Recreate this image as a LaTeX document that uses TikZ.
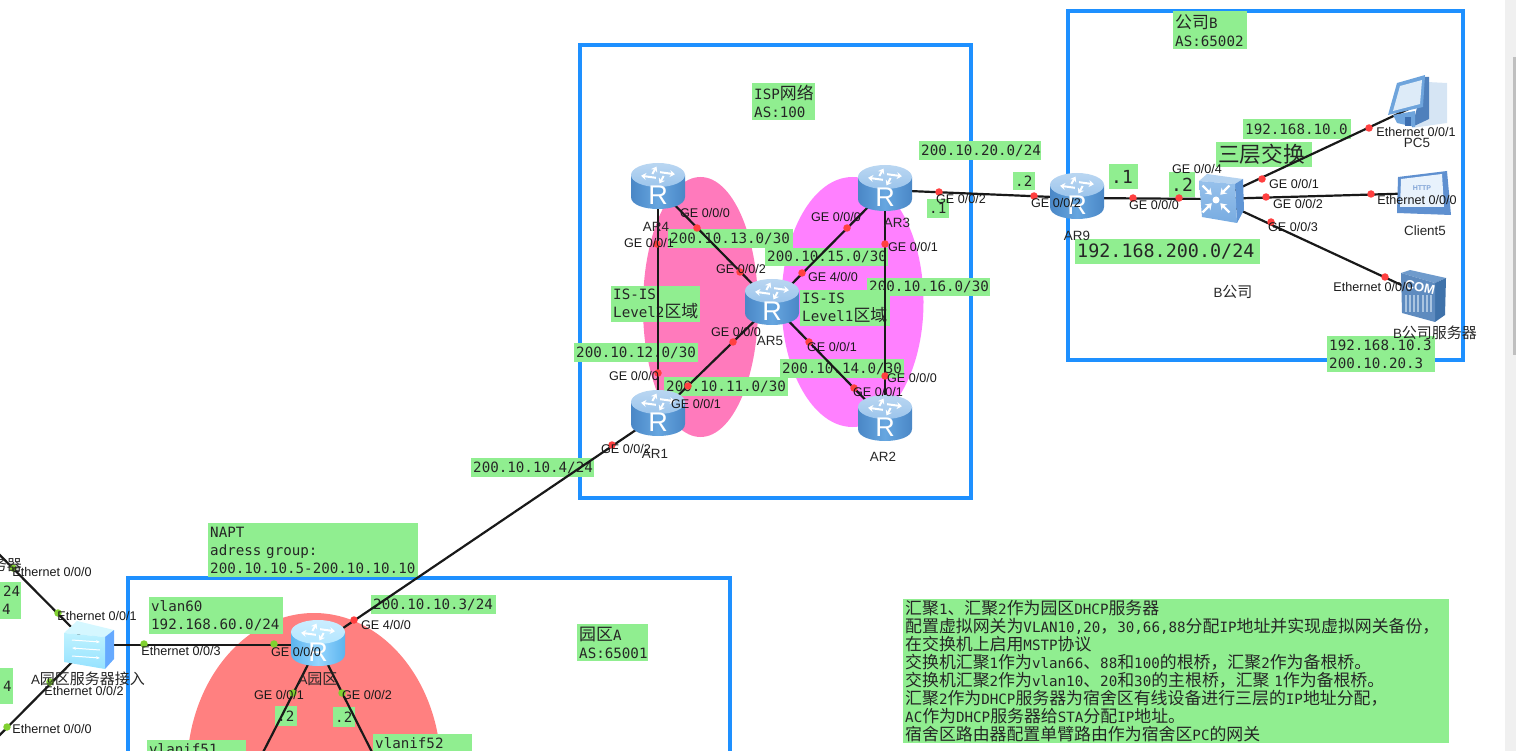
\documentclass[tikz,border=0pt]{standalone}
\usepackage{fontspec}
\setmainfont{Liberation Sans}
\newfontfamily\monofnt{DejaVu Sans Mono}
\newfontfamily\cjk[Scale=1.19]{Noto Sans CJK SC}
\newfontfamily\cjkb[Scale=1.12]{Noto Sans CJK SC}
\newcommand{\zh}[1]{{\cjk #1}}
\newcommand{\zhb}[1]{{\cjkb #1}}
\usetikzlibrary{arrows.meta,positioning,calc}
\definecolor{lblgreen}{HTML}{90EE90}
\definecolor{framblue}{HTML}{1E90FF}
\definecolor{zonepink}{HTML}{FF7ABC}
\definecolor{zonemag}{HTML}{FF80FF}
\definecolor{zonered}{HTML}{FF8080}
\definecolor{portred}{HTML}{FF4040}
\definecolor{portgreen}{HTML}{80D030}
\definecolor{rtedge}{HTML}{4A87C6}
\definecolor{rtbody}{HTML}{66A6E0}
\definecolor{rttop}{HTML}{9CC5EC}
\definecolor{raedge}{HTML}{5CB4EE}
\definecolor{rabody}{HTML}{96D6FF}
\definecolor{ratop}{HTML}{B4E6FF}
\tikzset{
    areaframe/.style={draw=framblue,line width=4pt},
    lblbox/.style 2 args={fill=lblgreen,anchor=north west,align=left,inner xsep=2pt,inner ysep=0pt,
        text width=#1pt,minimum height=#2pt,text=black!85,font=\fontsize{14.2}{18}\selectfont\monofnt},
    link/.style={draw=black!90,line width=2.2pt},
    device/.style={circle,inner sep=0pt,minimum size=2pt},
    reddot/.style={circle,fill=portred,inner sep=0pt,minimum size=7.5pt},
    greendot/.style={circle,fill=portgreen,inner sep=0pt,minimum size=7.5pt},
    portlbl/.style={inner sep=0pt,text=black!90,font=\fontsize{12.6}{14}\selectfont},
    devlbl/.style={inner sep=0pt,text=black!85,font=\fontsize{13.4}{15}\selectfont},
}
% router: #1 node, #2 edge, #3 body, #4 top
\newcommand{\routerpic}[4]{
    \begin{scope}[shift={(#1)},yshift=2pt]
        \path[left color=#2,right color=#2,middle color=#3]
            (-27,-11) -- (-27,11) .. controls (-27,27) and (27,27) .. (27,11) -- (27,-11) -- cycle;
        \path[top color=#4!70!white,bottom color=#4] (0,-11) ellipse [x radius=27,y radius=12];
        \begin{scope}[shift={(0,-11)},yscale=.5]
            \foreach \a in {20,110,200,290}
                \draw[white,line width=2pt,-{Stealth[length=5pt,width=7pt]}] (\a:6) -- (\a+65:17);
        \end{scope}
        \node[white,inner sep=0pt,font=\fontsize{27}{27}\selectfont] at (0,9) {R};
    \end{scope}
}
\newcommand{\coreswitchpic}[1]{
    \begin{scope}[shift={(#1)}]
        \fill[fill={rgb,255:red,181;green,211;blue,240}] (-17,-18) -- (-9,-25) -- (27,-20) -- (19,-15) -- cycle;
        \fill[fill={rgb,255:red,95;green,149;blue,213}] (19,-15) -- (27,-20) -- (28,11) -- (21,24) -- cycle;
        \path[top color={rgb,255:red,150;green,193;blue,235},bottom color={rgb,255:red,120;green,172;blue,225}]
            (-17,-18) -- (19,-15) -- (21,24) -- (-14,18) -- cycle;
        \fill[white] (0,1) circle (3.5);
        \foreach \a in {45,135,225,315}
            \draw[white,line width=2.2pt,{Stealth[length=6pt,width=8pt]}-] (\a:6) -- (\a:19);
    \end{scope}
}
\newcommand{\accessswitchpic}[1]{
    \begin{scope}[shift={(#1)}]
        \fill[fill={rgb,255:red,213;green,247;blue,255}] (-25,-12) -- (-12,-24) -- (25,-15) -- (16,-8) -- cycle;
        \fill[fill={rgb,255:red,102;green,170;blue,255}] (16,-8) -- (25,-15) -- (25,14) -- (16,24) -- cycle;
        \path[top color={rgb,255:red,190;green,242;blue,255},bottom color={rgb,255:red,150;green,226;blue,255}]
            (-25,-12) -- (16,-8) -- (16,24) -- (-25,17) -- cycle;
        \draw[white,line width=1pt,-{Stealth[length=4pt]}] (-17,-5) -- (11,-3);
        \draw[white,line width=1pt,{Stealth[length=4pt]}-] (-17,3) -- (11,5);
        \draw[white,line width=1pt,-{Stealth[length=4pt]}] (-17,11) -- (11,13);
    \end{scope}
}
\begin{document}
\begin{tikzpicture}[x=1pt,y=-1pt]
    \useasboundingbox (0,0) rectangle (1516,751);
    \clip (0,0) rectangle (1516,751);
    \fill[black!6] (1505,0) rectangle (1516,751);
    \fill[black!25] (1513,57) rectangle (1516,355);

    \fill[zonered] (314,770) ellipse [x radius=127,y radius=157];
    \fill[zonepink] (700.5,307) ellipse [x radius=57.5,y radius=130];
    \fill[zonemag] (852.5,302) ellipse [x radius=71,y radius=125];
    \draw[areaframe] (580,45.5) rectangle (970.5,498);
    \draw[areaframe] (1067.5,11.5) rectangle (1462.5,360);
    \draw[areaframe] (127.7,577.5) rectangle (730,790);

    \node[lblbox={59}{37}] (ispbox) at (752,83) {ISP\zh{网络}\\AS:100};
    \node[lblbox={70}{38}] (compbbox) at (1173,11) {\zh{公司}B\\AS:65002};
    \node[lblbox={92}{25},font=\fontsize{18.2}{24}\selectfont\monofnt] (l3box) at (1216,142) {\zh{三层交换}};
    \node[lblbox={104}{20}] (net10box) at (1243,119) {192.168.10.0};
    \node[lblbox={25}{25},font=\fontsize{18}{24}\selectfont\monofnt] (dot1box) at (1109,164) {.1};
    \node[lblbox={22}{25},font=\fontsize{18}{24}\selectfont\monofnt] (dot2box) at (1169,172) {.2};
    \node[lblbox={118}{19}] (net20box) at (919,141) {200.10.20.0/24};
    \node[lblbox={18}{18}] (ar9dotbox) at (1013,172) {.2};
    \node[lblbox={18}{19}] (ar3dotbox) at (927,199) {.1};
    \node[lblbox={181}{25},font=\fontsize{18.4}{22}\selectfont\monofnt] (net200box) at (1075,239) {192.168.200.0/24};
    \node[lblbox={104}{36}] (srvbox) at (1327,336) {192.168.10.3\\200.10.20.3};
    \node[lblbox={121}{19}] (net13box) at (668,229) {200.10.13.0/30};
    \node[lblbox={119}{18}] (net15box) at (765,248) {200.10.15.0/30};
    \node[lblbox={119}{18}] (net16box) at (867,278) {200.10.16.0/30};
    \node[lblbox={85}{36}] (lv2box) at (611,286) {IS-IS\\Level2\zh{区域}};
    \node[lblbox={86}{36}] (lv1box) at (800,290) {IS-IS\\Level1\zh{区域}};
    \node[lblbox={120}{19}] (net12box) at (574,343) {200.10.12.0/30};
    \node[lblbox={120}{19}] (net11box) at (664,377) {200.10.11.0/30};
    \node[lblbox={120}{19}] (net14box) at (780,359) {200.10.14.0/30};
    \node[lblbox={119}{19}] (net4box) at (471,458) {200.10.10.4/24};
    \node[lblbox={206}{54}] (naptbox) at (208,523) {NAPT\\adress group:\\200.10.10.5-200.10.10.10};
    \node[lblbox={130}{37}] (vlan60box) at (149,597) {vlan60\\192.168.60.0/24};
    \node[lblbox={121}{19}] (net3box) at (371,595) {200.10.10.3/24};
    \node[lblbox={67}{37}] (parkbox) at (577,624) {\zh{园区}A\\AS:65001};
    \node[lblbox={18}{20}] (dotlbox) at (275,706) {.2};
    \node[lblbox={18}{20}] (dotrbox) at (333,707) {.2};
    \node[lblbox={95}{36}] (vif51box) at (147,740) {vlanif51\\\phantom{0}};
    \node[lblbox={95}{36}] (vif52box) at (373,734) {vlanif52\\\phantom{0}};
    \node[lblbox={17}{37}] (lefta) at (0,582) {\hspace*{1pt}24\\4};
    \node[lblbox={9}{36}] (leftb) at (0,668) {\hspace*{1pt}4};
    \node[lblbox={542}{144},font=\fontsize{14.2}{17.9}\selectfont\monofnt] (notebox) at (903,599) {%
        \zh{汇聚}1\zh{、汇聚}2\zh{作为园区}DHCP\zh{服务器}\\
        \zh{配置虚拟网关为}VLAN10,20\zh{，}30,66,88\zh{分配}IP\zh{地址并实现虚拟网关备份，}\\
        \zh{在交换机上启用}MSTP\zh{协议}\\
        \zh{交换机汇聚}1\zh{作为}vlan66\zh{、}88\zh{和}100\zh{的根桥，汇聚}2\zh{作为备根桥。}\\
        \zh{交换机汇聚}2\zh{作为}vlan10\zh{、}20\zh{和}30\zh{的主根桥，汇聚} 1\zh{作为备根桥。}\\
        \zh{汇聚}2\zh{作为}DHCP\zh{服务器为宿舍区有线设备进行三层的}IP\zh{地址分配，}\\
        AC\zh{作为}DHCP\zh{服务器给}STA\zh{分配}IP\zh{地址。}\\
        \zh{宿舍区路由器配置单臂路由作为宿舍区}PC\zh{的网关}};

    \node[device] (AR4) at (658,188) {};
    \node[device] (AR3) at (885,190) {};
    \node[device] (AR5) at (772,304) {};
    \node[device] (AR1) at (658,415) {};
    \node[device] (AR2) at (885,420) {};
    \node[device] (AR9) at (1077,198) {};
    \node[device] (L3SW) at (1216,199) {};
    \node[device] (PC5) at (1417,105) {};
    \node[device] (Client5) at (1425,193) {};
    \node[device] (BServer) at (1425,296) {};
    \node[device] (ARA) at (318,645) {};
    \node[device] (ASW) at (89,645) {};
    \coordinate (upl) at (-30,525);
    \coordinate (dnl) at (-30,765);
    \coordinate (hui1) at (255,768);
    \coordinate (hui2) at (380,768);

    \draw[link] (AR4) -- (AR1);
    \draw[link] (AR4) -- (AR5);
    \draw[link] (AR1) -- (AR5);
    \draw[link] (AR3) -- (AR5);
    \draw[link] (AR2) -- (AR5);
    \draw[link] (AR3) -- (AR2);
    \draw[link] (AR3) -- (AR9);
    \draw[link] (AR9) -- (L3SW);
    \draw[link] (L3SW) -- (PC5);
    \draw[link] (L3SW) -- (Client5);
    \draw[link] (L3SW) -- (BServer);
    \draw[link] (AR1) -- (ARA);
    \draw[link] (ASW) -- (ARA);
    \draw[link] (ARA) -- (hui1);
    \draw[link] (ARA) -- (hui2);
    \draw[link] (ASW) -- (upl);
    \draw[link] (ASW) -- (dnl);

    \routerpic{AR4}{rtedge}{rtbody}{rttop}
    \routerpic{AR3}{rtedge}{rtbody}{rttop}
    \routerpic{AR5}{rtedge}{rtbody}{rttop}
    \routerpic{AR1}{rtedge}{rtbody}{rttop}
    \routerpic{AR2}{rtedge}{rtbody}{rttop}
    \routerpic{AR9}{rtedge}{rtbody}{rttop}
    \routerpic{ARA}{raedge}{rabody}{ratop}
    \coreswitchpic{L3SW}
    \accessswitchpic{ASW}

    % PC
    \begin{scope}[shift={(PC5)}]
        \fill[fill={rgb,255:red,214;green,229;blue,244}] (10,-23) -- (30,-22) -- (30,18) -- (-5,23) -- cycle;
        \fill[fill={rgb,255:red,79;green,128;blue,188}] (8,-28) -- (12,-28) -- (12,14) -- (-5,22) -- cycle;
        \fill[fill={rgb,255:red,110;green,164;blue,220}] (-20,-22) -- (8,-30) -- (6,2) -- (-29,10) -- cycle;
        \fill[fill={rgb,255:red,221;green,235;blue,248}] (-17,-19) -- (5,-25) -- (3,-1) -- (-24,6) -- cycle;
        \fill[fill={rgb,255:red,110;green,164;blue,220}] (-24,10) -- (-2,6) -- (-2,22) -- (-20,18) -- cycle;
        \fill[fill={rgb,255:red,60;green,110;blue,175}] (-12,12) rectangle (-6,21);
    \end{scope}

    % HTTP client
    \begin{scope}[shift={(Client5)}]
        \fill[fill={rgb,255:red,95;green,144;blue,208}] (-27,-16) -- (22,-22) -- (26,22) -- (-28,20) -- cycle;
        \fill[fill={rgb,255:red,232;green,242;blue,252}] (-24,-14) -- (17,-19) -- (19,14) -- (-25,14) -- cycle;
        \node[font=\bfseries\fontsize{7}{7}\selectfont,text={rgb,255:red,130;green,165;blue,215},inner sep=0pt] (httptxt) at (-3,-5) {HTTP};
    \end{scope}

    % server
    \begin{scope}[shift={(BServer)}]
        \fill[fill={rgb,255:red,111;green,155;blue,204}] (-24,-23) -- (-15,-26) -- (21,-18) -- (10,-13) -- cycle;
        \fill[fill={rgb,255:red,63;green,114;blue,170}] (10,-13) -- (21,-18) -- (20,19) -- (10,26) -- cycle;
        \fill[fill={rgb,255:red,94;green,139;blue,191}] (-24,-23) -- (10,-13) -- (10,26) -- (-23,17) -- cycle;
        \foreach \x in {-20,-16,-12,-8,-3,1,5}
            \fill[fill={rgb,255:red,169;green,196;blue,224}] (\x,-1) rectangle (\x+1.5,16);
        \node[white,font=\bfseries\fontsize{13}{13}\selectfont,inner sep=0pt,rotate=-12] (comtxt) at (-5,-9) {COM};
    \end{scope}

    \foreach \dx/\dy in {697/228,740/272,657/244,658/373,688/386,733/342,847/228,802/273,885/244,885/376,809/342,854/388,939/192,1034/196,1133/198,1179/198,1262/179,1369/128,1266/197,1371/194,1271/222,1385/277,354/620,612/445}
        \node[reddot] (r\dx) at (\dx,\dy) {};
    \foreach \dx/\dy in {144/644,274/644,293/693,342/693,13/568,58/613,50/682,7/727}
        \node[greendot] (g\dx) at (\dx,\dy) {};

    \node[portlbl] (ar4p0) at (705,213) {GE 0/0/0};
    \node[portlbl] (ar4p1) at (649,243) {GE 0/0/1};
    \node[portlbl] (ar5p2) at (741,269) {GE 0/0/2};
    \node[portlbl] (ar5p0) at (736,332) {GE 0/0/0};
    \node[portlbl] (ar1p0) at (634,376) {GE 0/0/0};
    \node[portlbl] (ar1p1) at (696,404) {GE 0/0/1};
    \node[portlbl] (ar1p2) at (626,449) {GE 0/0/2};
    \node[portlbl] (ar3p0) at (836,217) {GE 0/0/0};
    \node[portlbl] (ar3p1) at (913,247) {GE 0/0/1};
    \node[portlbl] (ar5p4) at (833,277) {GE 4/0/0};
    \node[portlbl] (ar5p1) at (832,347) {GE 0/0/1};
    \node[portlbl] (ar2p0) at (912,378) {GE 0/0/0};
    \node[portlbl] (ar2p1) at (878,392) {GE 0/0/1};
    \node[portlbl] (ar3p2) at (961,199) {GE 0/0/2};
    \node[portlbl] (ar9p2) at (1056,203) {GE 0/0/2};
    \node[portlbl] (ar9p0) at (1154,205) {GE 0/0/0};
    \node[portlbl] (swp4) at (1197,169) {GE 0/0/4};
    \node[portlbl] (swp1) at (1294,184) {GE 0/0/1};
    \node[portlbl] (swp2) at (1298,204) {GE 0/0/2};
    \node[portlbl] (swp3) at (1293,227) {GE 0/0/3};
    \node[portlbl] (pcp1) at (1416,132) {Ethernet 0/0/1};
    \node[portlbl] (clp0) at (1417,200) {Ethernet 0/0/0};
    \node[portlbl] (srvp0) at (1373,287) {Ethernet 0/0/0};
    \node[portlbl] (asrvp0) at (52,572) {Ethernet 0/0/0};
    \node[portlbl] (aswp1) at (97,616) {Ethernet 0/0/1};
    \node[portlbl] (aswp3) at (181,651) {Ethernet 0/0/3};
    \node[portlbl] (arap0) at (296,652) {GE 0/0/0};
    \node[portlbl] (arap4) at (386,625) {GE 4/0/0};
    \node[portlbl] (arap1) at (279,695) {GE 0/0/1};
    \node[portlbl] (arap2) at (367,695) {GE 0/0/2};
    \node[portlbl] (aswp2) at (84,691) {Ethernet 0/0/2};
    \node[portlbl] (lowp0) at (52,729) {Ethernet 0/0/0};

    \node[devlbl] (ar4lbl) at (656,227) {AR4};
    \node[devlbl] (ar3lbl) at (897,223) {AR3};
    \node[devlbl] (ar5lbl) at (770,341) {AR5};
    \node[devlbl] (ar1lbl) at (655,454) {AR1};
    \node[devlbl] (ar2lbl) at (883,457) {AR2};
    \node[devlbl] (ar9lbl) at (1077,236) {AR9};
    \node[devlbl] (pclbl) at (1417,143) {PC5};
    \node[devlbl] (cllbl) at (1425,231) {Client5};
    \node[devlbl] (srvlbl) at (1435,333) {B\zhb{公司服务器}};
    \node[devlbl] (complbl) at (1233,292) {B\zhb{公司}};
    \node[devlbl] (aralbl) at (318,679) {A\zhb{园区}};
    \node[devlbl] (aswlbl) at (88,679) {A\zhb{园区服务器接入}};
    \node[devlbl,anchor=east] (asrvlbl) at (22,565) {\zhb{务器}};
\end{tikzpicture}
\end{document}
